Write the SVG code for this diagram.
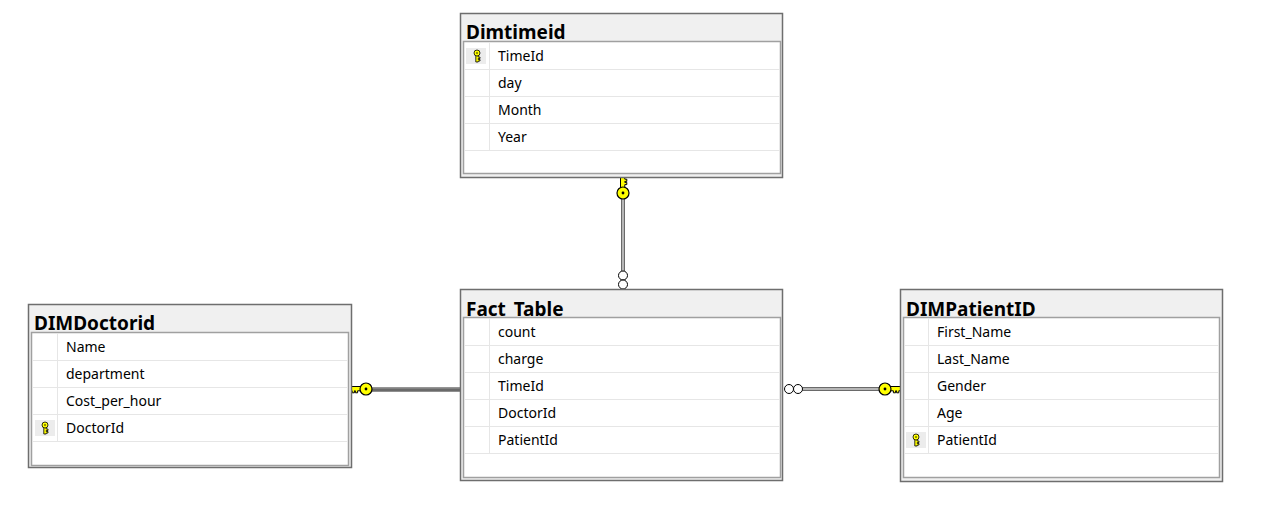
<svg xmlns="http://www.w3.org/2000/svg" width="1265" height="518" viewBox="0 0 1265 518">
<style>
.outer{fill:#f0f0f0;stroke:#6e6e6e;stroke-width:1.5}
.inner{fill:#ffffff;stroke:#a0a0a0;stroke-width:1.5}
.sep{stroke:#e6e6e6;stroke-width:1}
.title{font-family:"Noto Sans","Open Sans",sans-serif;font-weight:bold;font-size:19px;fill:#000}
.col{font-family:"Noto Sans","Open Sans",sans-serif;font-size:14px;fill:#000}
.keybg{fill:#ececec}
.rel-out{stroke:#6a6a6a;stroke-width:4;fill:none}
.rel-in{stroke:#d0d0d0;stroke-width:1.5;fill:none}
.inf{fill:#fff;stroke:#000;stroke-width:1}
</style>
<defs>
<g id="bigkey">
<path d="M4,-2.5 H15 L17,-0.5 L15,1.8 H13.8 V3.8 H11.6 V1.8 H10.6 V3.8 H8.4 V1.8 H4 Z" fill="#ffff00" stroke="#000" stroke-width="1"/>
<circle r="6" fill="#ffff00" stroke="#000" stroke-width="1.2"/>
<circle r="1.4" fill="#000"/>
</g>
<g id="smallkey">
<path d="M-1.2,0 V8 H1.2 V7 H3 V5.5 H1.2 V4.5 H3 V3 H1.2 V0 Z" fill="#ffff00" stroke="#000" stroke-width="0.8"/>
<circle cx="0" cy="-1" r="3" fill="#ffff00" stroke="#000" stroke-width="0.8"/>
<circle cx="0" cy="-1" r="0.8" fill="#000"/>
</g>
</defs>

<g id="connectors">
<!-- Dimtimeid to Fact_Table -->
<line class="rel-out" x1="623" y1="198" x2="623" y2="271"/>
<line class="rel-in" x1="623" y1="198" x2="623" y2="271"/>
<use href="#bigkey" transform="translate(623,193) rotate(-90)"/>
<circle class="inf" cx="623" cy="275.5" r="4.5"/>
<circle class="inf" cx="623" cy="284.5" r="4.5"/>
<!-- DIMDoctorid to Fact_Table -->
<line x1="371" y1="389.5" x2="460" y2="389.5" stroke="#6a6a6a" stroke-width="4.5"/>
<line x1="371" y1="388" x2="460" y2="388" stroke="#9a9a9a" stroke-width="1"/>
<use href="#bigkey" transform="translate(366,389) scale(-1,1)"/>
<!-- Fact_Table to DIMPatientID -->
<line class="rel-out" x1="802" y1="389" x2="880" y2="389"/>
<line class="rel-in" x1="802" y1="389" x2="880" y2="389"/>
<circle class="inf" cx="789" cy="389" r="4.5"/>
<circle class="inf" cx="798" cy="389" r="4.5"/>
<use href="#bigkey" transform="translate(885,389)"/>
</g>

<g id="Dimtimeid">
<rect class="outer" x="460.5" y="13.5" width="322" height="164"/>
<text class="title" x="466" y="39">Dimtimeid</text>
<rect class="inner" x="463.5" y="41.5" width="317" height="132"/>
<line class="sep" x1="464" y1="69.5" x2="780" y2="69.5"/>
<line class="sep" x1="464" y1="96.5" x2="780" y2="96.5"/>
<line class="sep" x1="464" y1="123.5" x2="780" y2="123.5"/>
<line class="sep" x1="464" y1="150.5" x2="780" y2="150.5"/>
<line class="sep" x1="489.5" y1="42" x2="489.5" y2="150"/>
<rect class="keybg" x="466" y="48" width="20" height="16"/>
<use href="#smallkey" transform="translate(477,54)"/>
<text class="col" x="498" y="61">TimeId</text>
<text class="col" x="498" y="88">day</text>
<text class="col" x="498" y="115">Month</text>
<text class="col" x="498" y="142">Year</text>
</g>

<g id="Fact_Table">
<rect class="outer" x="460.5" y="289.5" width="322" height="191"/>
<text class="title" x="466" y="316">Fact_Table</text>
<rect class="inner" x="463.5" y="317.5" width="317" height="160"/>
<line class="sep" x1="464" y1="345.5" x2="780" y2="345.5"/>
<line class="sep" x1="464" y1="372.5" x2="780" y2="372.5"/>
<line class="sep" x1="464" y1="399.5" x2="780" y2="399.5"/>
<line class="sep" x1="464" y1="426.5" x2="780" y2="426.5"/>
<line class="sep" x1="464" y1="453.5" x2="780" y2="453.5"/>
<line class="sep" x1="489.5" y1="318" x2="489.5" y2="453"/>
<text class="col" x="498" y="337">count</text>
<text class="col" x="498" y="364">charge</text>
<text class="col" x="498" y="391">TimeId</text>
<text class="col" x="498" y="418">DoctorId</text>
<text class="col" x="498" y="445">PatientId</text>
</g>

<g id="DIMDoctorid">
<rect class="outer" x="28.5" y="304.5" width="323" height="163"/>
<text class="title" x="34" y="330">DIMDoctorid</text>
<rect class="inner" x="31.5" y="332.5" width="317" height="133"/>
<line class="sep" x1="32" y1="360.5" x2="348" y2="360.5"/>
<line class="sep" x1="32" y1="387.5" x2="348" y2="387.5"/>
<line class="sep" x1="32" y1="414.5" x2="348" y2="414.5"/>
<line class="sep" x1="32" y1="441.5" x2="348" y2="441.5"/>
<line class="sep" x1="57.5" y1="333" x2="57.5" y2="441"/>
<rect class="keybg" x="35" y="420" width="20" height="16"/>
<use href="#smallkey" transform="translate(45,426)"/>
<text class="col" x="66" y="352">Name</text>
<text class="col" x="66" y="379">department</text>
<text class="col" x="66" y="406">Cost_per_hour</text>
<text class="col" x="66" y="433">DoctorId</text>
</g>

<g id="DIMPatientID">
<rect class="outer" x="900.5" y="289.5" width="322" height="192"/>
<text class="title" x="906" y="316">DIMPatientID</text>
<rect class="inner" x="903.5" y="317.5" width="316" height="160"/>
<line class="sep" x1="904" y1="345.5" x2="1219" y2="345.5"/>
<line class="sep" x1="904" y1="372.5" x2="1219" y2="372.5"/>
<line class="sep" x1="904" y1="399.5" x2="1219" y2="399.5"/>
<line class="sep" x1="904" y1="426.5" x2="1219" y2="426.5"/>
<line class="sep" x1="904" y1="453.5" x2="1219" y2="453.5"/>
<line class="sep" x1="928.5" y1="318" x2="928.5" y2="453"/>
<rect class="keybg" x="906" y="432" width="20" height="16"/>
<use href="#smallkey" transform="translate(916,438)"/>
<text class="col" x="937" y="337">First_Name</text>
<text class="col" x="937" y="364">Last_Name</text>
<text class="col" x="937" y="391">Gender</text>
<text class="col" x="937" y="418">Age</text>
<text class="col" x="937" y="445">PatientId</text>
</g>
</svg>
